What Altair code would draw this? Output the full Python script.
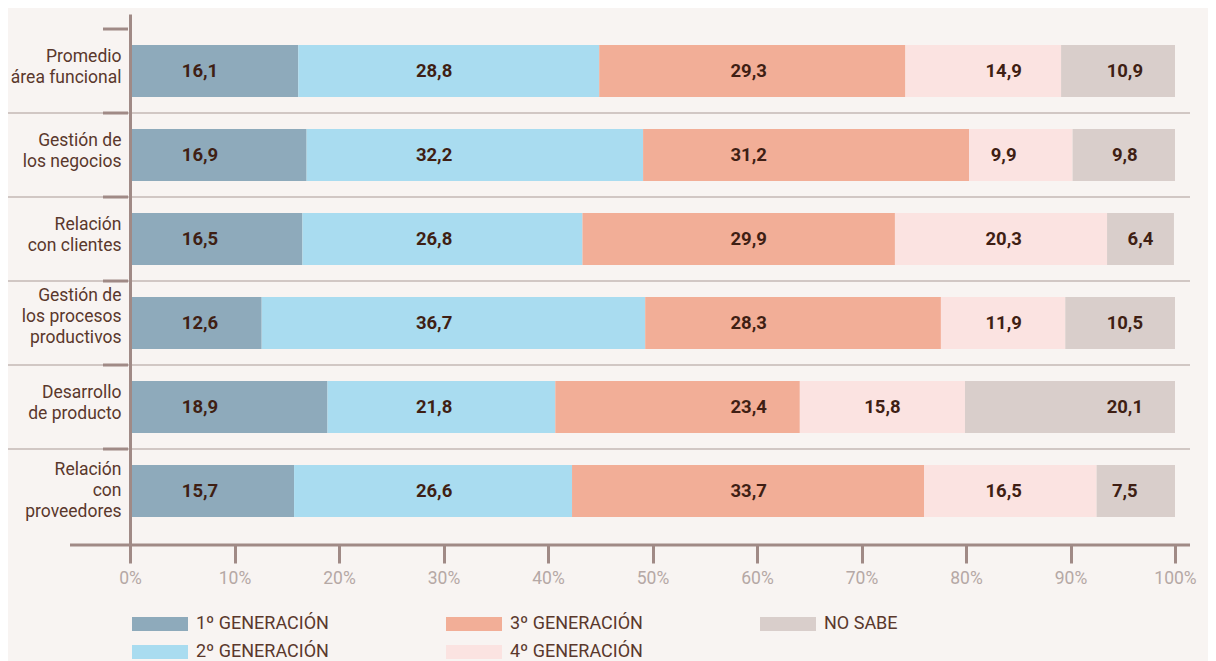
import altair as alt
import pandas as pd

# ---- data ----
categories = [
    "Promedio|área funcional",
    "Gestión de|los negocios",
    "Relación|con clientes",
    "Gestión de|los procesos|productivos",
    "Desarrollo|de producto",
    "Relación|con|proveedores",
]
series = ["1º GENERACIÓN", "2º GENERACIÓN", "3º GENERACIÓN", "4º GENERACIÓN", "NO SABE"]
gen1 = [16.1, 16.9, 16.5, 12.6, 18.9, 15.7]
gen2 = [28.8, 32.2, 26.8, 36.7, 21.8, 26.6]
gen3 = [29.3, 31.2, 29.9, 28.3, 23.4, 33.7]
gen4 = [14.9, 9.9, 20.3, 11.9, 15.8, 16.5]
no_sabe = [10.9, 9.8, 6.4, 10.5, 20.1, 7.5]
x_ticks = [0, 10, 20, 30, 40, 50, 60, 70, 80, 90, 100]

# ---- style ----
series_colors = {
    "1º GENERACIÓN": "#8eaabb",
    "2º GENERACIÓN": "#a9dcf0",
    "3º GENERACIÓN": "#f2ae97",
    "4º GENERACIÓN": "#fbe3e1",
    "NO SABE": "#d9cecb",
}
# preferred label column (in % of the axis) for each series
label_anchor = {
    "1º GENERACIÓN": 6.7,
    "2º GENERACIÓN": 29.1,
    "3º GENERACIÓN": 59.2,
    "4º GENERACIÓN": 83.6,
    "NO SABE": 95.2,
}
BG = "#f8f4f2"
AXIS = "#a08a86"
TEXT = "#5a382c"
FONT = "Roboto"

values = [gen1, gen2, gen3, gen4, no_sabe]
rows = []
for i, cat in enumerate(categories):
    cum = 0.0
    for j, s in enumerate(series):
        v = values[j][i]
        start, end = cum, cum + v
        cum = end
        a = label_anchor[s]
        lx = a if (start + 2 < a < end - 2) else (start + end) / 2
        rows.append({
            "cat": cat, "serie": s, "order": j, "value": v,
            "start": start, "end": end, "label_x": lx,
            "label": f"{v:.1f}".replace(".", ","),
        })
df = pd.DataFrame(rows)
df_cats = pd.DataFrame({"cat": categories})
df_sep = pd.DataFrame({"cat": categories[1:]})

legend_order = ["1º GENERACIÓN", "3º GENERACIÓN", "NO SABE", "2º GENERACIÓN", "4º GENERACIÓN"]

yscale = alt.Scale(domain=categories, paddingInner=0, paddingOuter=0.1607, align=0.556)
xscale = alt.Scale(domain=[0, 100], nice=False)

y_axis = alt.Axis(
    title=None, ticks=False, domain=True, domainColor=AXIS, domainWidth=3,
    labelExpr="split(datum.label, '|')", labelAlign="right", labelBaseline="middle",
    labelFont=FONT, labelFontSize=17.5, labelColor=TEXT, labelLineHeight=21,
    labelPadding=9, labelLimit=300, zindex=1,
    labelOffset={
        "condition": [
            {"test": "indexof(datum.value, 'productivos') >= 0", "value": -27},
            {"test": "indexof(datum.value, 'proveedores') >= 0", "value": -21},
        ],
        "value": -14,
    },
)
x_axis = alt.Axis(
    title=None, values=x_ticks, labelExpr="datum.value + '%'", domain=False, grid=False,
    tickSize=18, tickWidth=3, tickColor=AXIS, labelColor="#b5a8a5",
    labelFont=FONT, labelFontSize=17.5, labelPadding=6, labelFlush=False, labelOverlap=False,
)

sep = alt.Chart(df_sep).mark_rule(color="#c4b8b4", strokeWidth=1.5).encode(
    y=alt.Y("cat:N", scale=yscale, bandPosition=0, title=None),
    x=alt.value(-122), x2=alt.value(1060),
)
ticks = alt.Chart(df_cats).mark_rule(color=AXIS, strokeWidth=3).encode(
    y=alt.Y("cat:N", scale=yscale, bandPosition=0, title=None),
    x=alt.value(-27), x2=alt.value(-2),
)
bars = alt.Chart(df).mark_bar(size=52).encode(
    y=alt.Y("cat:N", scale=yscale, axis=y_axis),
    x=alt.X("start:Q", scale=xscale, axis=x_axis),
    x2="end:Q",
    color=alt.Color(
        "serie:N",
        scale=alt.Scale(domain=legend_order, range=[series_colors[s] for s in legend_order]),
        legend=alt.Legend(
            title=None, orient="none", legendX=2, legendY=603, columns=3, direction="horizontal",
            symbolType="M-1,-0.25H1V0.25H-1Z", symbolSize=3136, clipHeight=14,
            symbolStrokeWidth=0, symbolOpacity=1, labelOffset=8,
            columnPadding=117, rowPadding=10, labelFont=FONT, labelFontSize=18,
            labelColor=TEXT, labelLimit=300,
        ),
    ),
    order="order:Q",
)
text = alt.Chart(df).mark_text(
    font=FONT, fontSize=18.5, fontWeight="bold", color="#3f1f14", baseline="middle", align="center"
).encode(
    y=alt.Y("cat:N", scale=yscale, title=None),
    x=alt.X("label_x:Q", scale=xscale, title=None),
    text="label:N",
)
xline = alt.Chart(df_cats.head(1)).mark_rule(color=AXIS, strokeWidth=3).encode(
    x=alt.value(-60), x2=alt.value(1060), y=alt.value(531),
)

chart = alt.layer(sep, ticks, bars, text, xline).properties(
    width=1045, height=531,
    autosize=alt.AutoSizeParams(type="none"),
    padding={"left": 122, "top": 6, "right": 33, "bottom": 120},
    background=BG,
).configure_view(stroke=None)

chart.save("out.html", embed_options={"renderer": "svg", "actions": False})
